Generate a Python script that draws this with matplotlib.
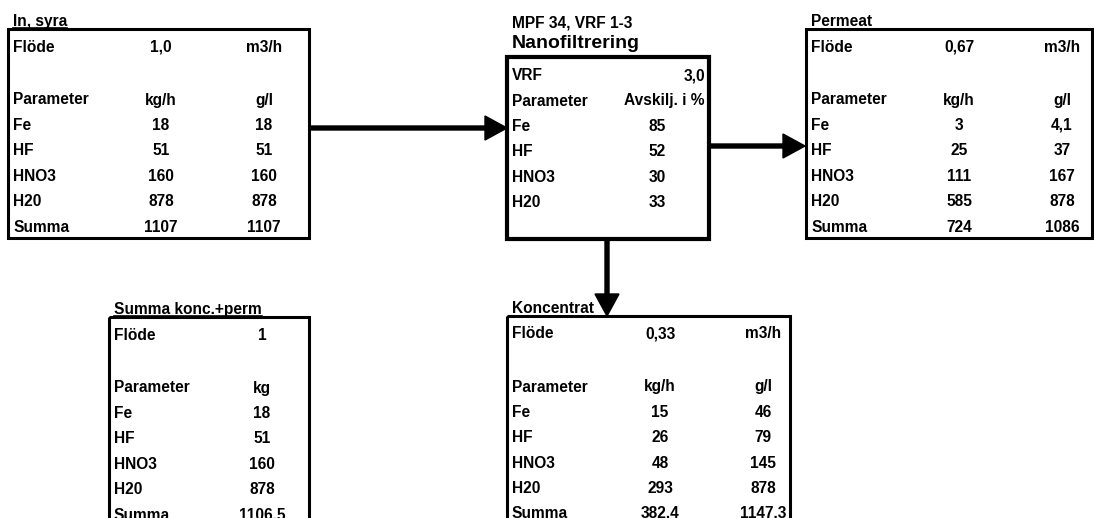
import matplotlib
matplotlib.use("Agg")
import matplotlib.pyplot as plt
from matplotlib.patches import Rectangle

plt.rcParams['font.family'] = ['Liberation Sans', 'DejaVu Sans']

# data
params = ["Fe", "HF", "HNO3", "H20", "Summa"]

in_flow = "1,0"
in_kgh = ["18", "51", "160", "878", "1107"]
in_gl = ["18", "51", "160", "878", "1107"]

perm_flow = "0,67"
perm_kgh = ["3", "25", "111", "585", "724"]
perm_gl = ["4,1", "37", "167", "878", "1086"]

konc_flow = "0,33"
konc_kgh = ["15", "26", "48", "293", "382.4"]
konc_gl = ["46", "79", "145", "878", "1147.3"]

sum_flow = "1"
sum_kg = ["18", "51", "160", "878", "1106.5"]

nf_vrf = "3,0"
nf_params = ["Fe", "HF", "HNO3", "H20"]
nf_sep = ["85", "52", "30", "33"]

FS = 11.2
W, H = 1094, 518

fig = plt.figure(figsize=(W / 100, H / 100), dpi=100)
ax = fig.add_axes([0, 0, 1, 1])
ax.set_xlim(0, W)
ax.set_ylim(H, 0)
ax.axis('off')


def txt(x, y, s, ha='left', size=FS, base=False):
    # y is the visual middle of capitals unless base=True
    yb = y if base else y + 5.5
    return ax.text(x, yb, s, ha=ha, va='baseline', fontsize=size,
                   fontweight='bold')


def box(x0, y0, x1, y1, lw=2.2):
    ax.add_patch(Rectangle((x0, y0), x1 - x0, y1 - y0, fill=False,
                           ec='black', lw=lw, clip_on=False))


def title(x, y, s, underline=False):
    t = txt(x, y, s, base=True)
    if underline:
        fig.canvas.draw()
        bb = t.get_window_extent().transformed(ax.transData.inverted())
        ax.plot([bb.x0, bb.x1], [y + 2, y + 2], color='black', lw=1.2)


def flow_table(left, right, top, bottom, name, flow, unit, col_a, head_a,
               col_b=None, head_b=None, underline=False):
    box(left, top, right, bottom)
    title(left + 5, top - 3, name, underline)
    c2 = left + 153
    c3 = left + 256
    txt(left + 5, top + 17, "Flöde")
    txt(c2, top + 17, flow, ha='center')
    if unit:
        txt(c3, top + 17, unit, ha='center')
    y = top + 70
    txt(left + 5, y, "Parameter")
    txt(c2, y, head_a, ha='center')
    if head_b:
        txt(c3, y, head_b, ha='center')
    for i, p in enumerate(params):
        yy = y + 25.4 * (i + 1)
        txt(left + 5, yy, p)
        txt(c2, yy, col_a[i], ha='center')
        if col_b:
            txt(c3, yy, col_b[i], ha='center')


flow_table(8, 309, 29, 238, "In, syra", in_flow, "m3/h", in_kgh, "kg/h",
           in_gl, "g/l", underline=True)
flow_table(806, 1092, 29, 238, "Permeat", perm_flow, "m3/h", perm_kgh, "kg/h",
           perm_gl, "g/l")
flow_table(507, 790, 316, 540, "Koncentrat", konc_flow, "m3/h", konc_kgh, "kg/h",
           konc_gl, "g/l")
flow_table(109, 309, 317, 540, "Summa konc.+perm", sum_flow, None, sum_kg, "kg",
           underline=True)

# nanofiltration box
box(507, 57, 709, 239, lw=3)
txt(512, 27, "MPF 34, VRF 1-3", base=True)
txt(512, 48, "Nanofiltrering", size=14, base=True)
txt(512, 75, "VRF")
txt(705, 75, nf_vrf, ha='right')
txt(512, 100, "Parameter")
txt(705, 100, "Avskilj. i %", ha='right')
for i, p in enumerate(nf_params):
    yy = 100 + 25.4 * (i + 1)
    txt(512, yy, p)
    txt(657, yy, nf_sep[i], ha='center')

# arrows
akw = dict(width=4, head_width=24, head_length=22, length_includes_head=True,
           color='black', clip_on=False)
ax.arrow(309, 128, 507 - 309, 0, **akw)
ax.arrow(709, 146, 805 - 709, 0, **akw)
ax.arrow(607, 239, 0, 316 - 239, **akw)

fig.savefig("out.png", dpi=100)
